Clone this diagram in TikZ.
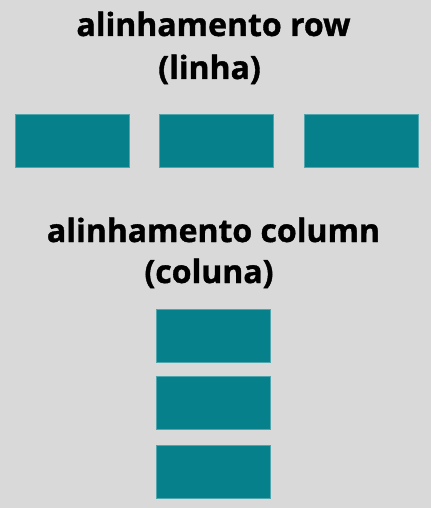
\documentclass[tikz,border=0pt]{standalone}
\usepackage{fontspec}
\setmainfont{Open Sans}[BoldFeatures={FakeBold=1.2}]
\usepackage{tikz}

\definecolor{fundo}{RGB}{217,217,217}
\definecolor{petroleo}{RGB}{6,128,138}

\tikzset{
  caixa/.style={fill=petroleo, draw=petroleo!70!white, line width=0.4pt,
    minimum width=114pt, minimum height=53pt, inner sep=0pt},
  titulo/.style={anchor=base, inner sep=0pt, font=\bfseries\fontsize{32}{36}\selectfont}
}

\begin{document}
\begin{tikzpicture}[x=1pt,y=-1pt]
\fill[fundo] (0,0) rectangle (431,508);
\useasboundingbox (0,0) rectangle (431,508);
% linha
\node[titulo] (row) at (213.5,36) {alinhamento row};
\node[titulo] (linha) at (209.5,79) {(linha)};
\node[caixa] (r1) at (72,140.5) {};
\node[caixa] (r2) at (216,140.5) {};
\node[caixa] (r3) at (361,140.5) {};
% coluna
\node[titulo] (col) at (213.5,242) {alinhamento column};
\node[titulo] (coluna) at (209,283) {(coluna)};
\node[caixa] (c1) at (213,336) {};
\node[caixa] (c2) at (213,402.5) {};
\node[caixa] (c3) at (213,471.5) {};
\end{tikzpicture}
\end{document}
